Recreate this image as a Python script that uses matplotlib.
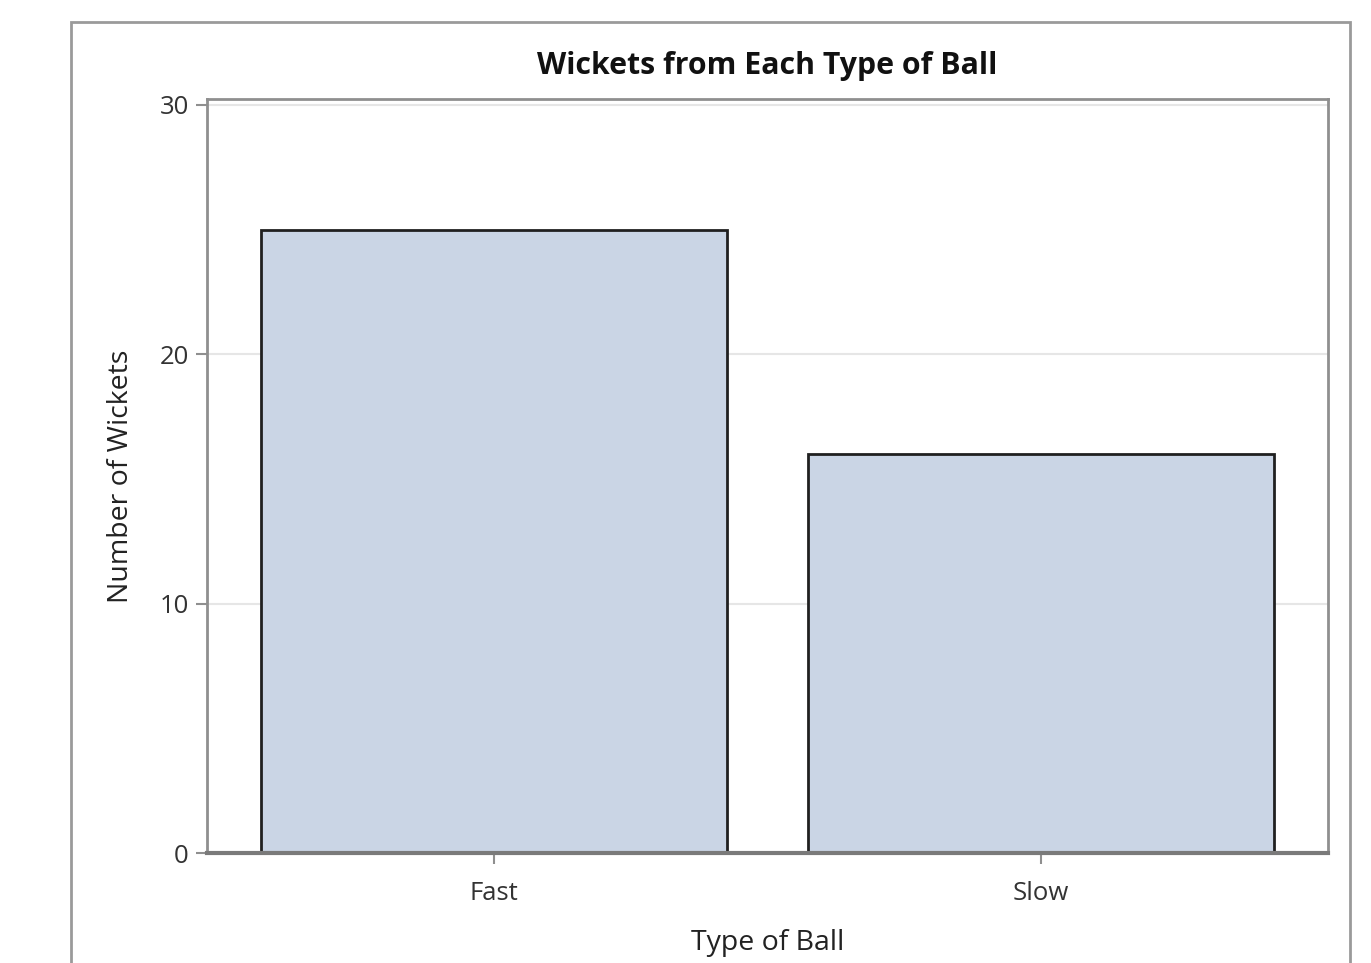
import matplotlib
matplotlib.use("Agg")
import matplotlib.pyplot as plt
from matplotlib.patches import Rectangle

categories = ["Fast", "Slow"]
wickets = [25, 16]
yticks = [0, 10, 20, 30]

title = "Wickets from Each Type of Ball"
xlabel = "Type of Ball"
ylabel = "Number of Wickets"

plt.rcParams['font.family'] = ['Open Sans', 'DejaVu Sans']

W, H = 1371, 963
fig = plt.figure(figsize=(W/100, H/100), dpi=100)
fig.patch.set_facecolor('white')

# outer frame
frame = Rectangle((71/W, -0.05), (1350-71)/W, 1.05 - 22/H, transform=fig.transFigure,
                  fill=False, edgecolor='#9a9a9a', linewidth=2, clip_on=False)
fig.patches.append(frame)

ax = fig.add_axes([207/W, (H-853)/H, (1328-207)/W, (853-99)/H])
x = list(range(len(categories)))
ax.bar(x, wickets, width=0.852, color='#cad5e5', edgecolor='#202020', linewidth=2, zorder=3)
ax.set_xlim(-0.525, len(categories) - 1 + 0.525)
ax.set_ylim(0, 30.24)
ax.set_xticks(x)
ax.set_xticklabels(categories)
ax.set_yticks(yticks)
ax.grid(axis='y', color='#e6e6e6', linewidth=1.5, zorder=0)
ax.set_axisbelow(True)

for side in ['left', 'right', 'top']:
    ax.spines[side].set_color('#8f8f8f')
    ax.spines[side].set_linewidth(2)
ax.spines['bottom'].set_color('#7a7a7a')
ax.spines['bottom'].set_linewidth(3)
ax.spines['bottom'].set_zorder(4)

ax.tick_params(axis='both', colors='#8f8f8f', labelcolor='#333333', labelsize=18.5,
               length=8, width=1.5, direction='out')
ax.tick_params(axis='x', pad=12)
ax.tick_params(axis='y', pad=5)

ax.set_title(title, fontsize=21.8, fontweight='bold', color='#111111', pad=18)
ax.set_xlabel(xlabel, fontsize=20.5, color='#222222', labelpad=17)
ax.set_ylabel(ylabel, fontsize=20.5, color='#222222', labelpad=18)

fig.savefig("out.png", dpi=100)
